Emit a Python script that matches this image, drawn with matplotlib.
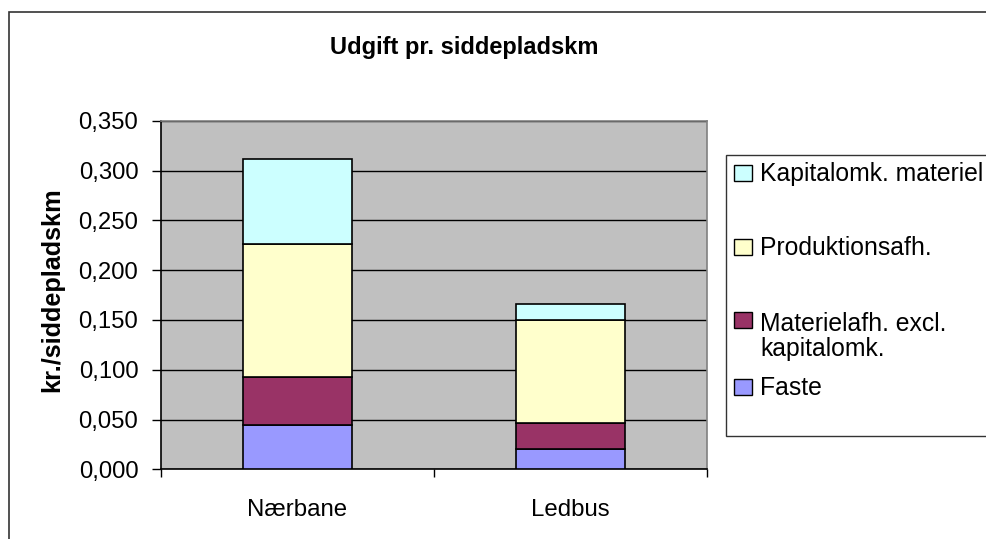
import matplotlib.pyplot as plt
from matplotlib.patches import Rectangle

categories = ["Nærbane", "Ledbus"]
series = ["Faste", "Materielafh. excl.\nkapitalomk.", "Produktionsafh.", "Kapitalomk. materiel"]
faste = [0.0445, 0.0204]
materiel = [0.048, 0.026]
produktion = [0.134, 0.103]
kapital = [0.085, 0.017]
colors = ["#9999FF", "#993366", "#FFFFCC", "#CCFFFF"]
yticks = [0.0, 0.05, 0.10, 0.15, 0.20, 0.25, 0.30, 0.35]

plt.rcParams["font.family"] = ["Liberation Sans", "DejaVu Sans"]

W, H = 987, 539
fig = plt.figure(figsize=(W / 100, H / 100), dpi=100)


def fx(x):
    return x / W


def fy(y):
    return 1 - y / H


ax = fig.add_axes([fx(161), fy(469.3), (707 - 161) / W, (469.3 - 120.7) / H])
ax.set_facecolor("#C0C0C0")

x = range(len(categories))
bottom = [0.0] * len(categories)
for vals, col in zip([faste, materiel, produktion, kapital], colors):
    ax.bar(x, vals, width=0.4, bottom=bottom, color=col, edgecolor="black",
           linewidth=1.2, zorder=3)
    bottom = [b + v for b, v in zip(bottom, vals)]

ax.set_xlim(-0.5, 1.5)
ax.set_ylim(0, 0.35)
ax.set_yticks(yticks)
ax.set_yticklabels([f"{t:.3f}".replace(".", ",") for t in yticks], fontsize=17.2)
ax.yaxis.grid(True, color="black", linewidth=1, zorder=1)
ax.set_axisbelow(True)
ax.tick_params(axis="y", direction="out", length=6.7, width=1, pad=9.6)

ax.set_xticks([-0.5, 0.5, 1.5])
ax.set_xticklabels([])
ax.set_xticks([0, 1], minor=True)
ax.set_xticklabels(categories, minor=True, fontsize=17.3)
ax.tick_params(axis="x", which="major", direction="out", length=6, width=1)
ax.tick_params(axis="x", which="minor", length=0, pad=21.7)

ax.spines["left"].set_color("black")
ax.spines["bottom"].set_color("black")
ax.spines["top"].set_color("#808080")
ax.spines["right"].set_color("#808080")
for s in ax.spines.values():
    s.set_linewidth(1.2)

fig.text(fx(52), fy(289.5), "kr./siddepladskm", fontsize=18.2, fontweight="bold",
         rotation=90, ha="center", va="center")

fig.text(fx(464), fy(54.3), "Udgift pr. siddepladskm", fontsize=17,
         fontweight="bold", ha="center", va="baseline")

# outer chart border
fig.patches.append(Rectangle((fx(9), fy(W)), 2, fy(12) - fy(W), transform=fig.transFigure,
                             fill=False, edgecolor="#333333", linewidth=1.2))

# legend box
fig.patches.append(Rectangle((fx(726), fy(436)), fx(300), fy(155) - fy(436),
                             transform=fig.transFigure, facecolor="white",
                             edgecolor="#333333", linewidth=1))
leg_base = [395, 327.7, 255, 181]
line_h = 28.3
for name, col, yb in zip(series, colors, leg_base):
    fig.patches.append(Rectangle((fx(734.3), fy(yb)), fx(17.4), fy(yb - 16) - fy(yb),
                                 transform=fig.transFigure, facecolor=col,
                                 edgecolor="black", linewidth=1))
    extra = name.count("\n") * line_h
    fig.text(fx(760), fy(yb + extra), name, fontsize=17.8, ha="left", va="baseline",
             linespacing=1.03)

fig.savefig("out.png", dpi=100)
